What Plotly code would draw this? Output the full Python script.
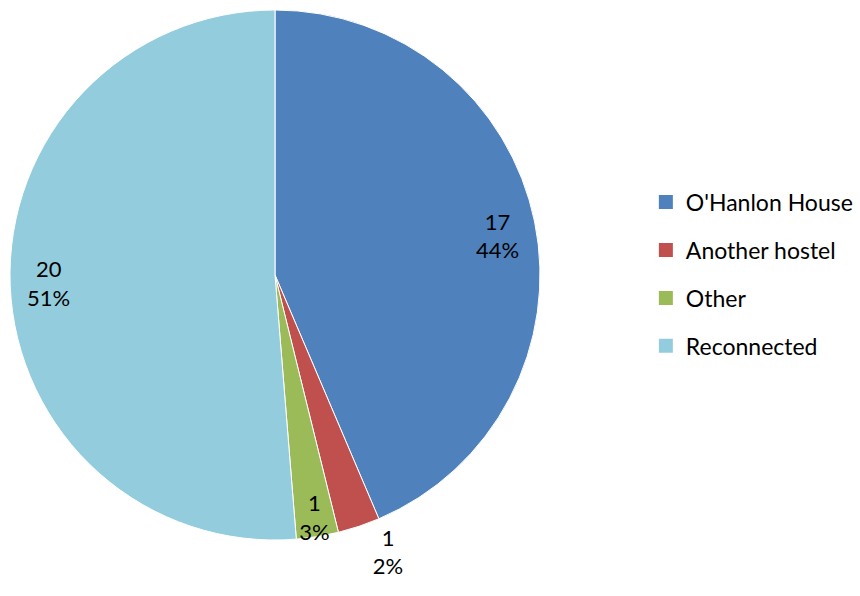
import plotly.graph_objects as go

labels = ["O'Hanlon House", "Another hostel", "Other", "Reconnected"]
values = [17, 1, 1, 20]
pct_labels = ["44%", "2%", "3%", "51%"]
colors = ["#4F81BD", "#C0504D", "#9BBB59", "#93CDDD"]
# where each data label is drawn: "band" = near the rim, "inside", "outside"
label_place = ["band", "outside", "inside", "band"]

W, H = 860, 596
CX, CY, R = 275, 275, 265          # pie geometry in pixels
R_LABEL = 191                      # radius of the invisible label ring
FONT = "Lato, Open Sans, sans-serif"

texts = [f"{v}<br>{p}" for v, p in zip(values, pct_labels)]


def domain(r):
    return dict(x=[(CX - r) / W, (CX + r) / W],
                y=[(H - CY - r) / H, (H - CY + r) / H])


fig = go.Figure()
# main pie
fig.add_trace(go.Pie(
    labels=labels, values=values,
    text=[t if p != "band" else "" for t, p in zip(texts, label_place)],
    texttemplate="%{text}",
    textposition=["inside" if p == "band" else p for p in label_place],
    insidetextorientation="horizontal",
    textfont=dict(family=FONT, size=22, color="black"),
    marker=dict(colors=colors, line=dict(color="white", width=1)),
    sort=False, direction="clockwise", rotation=0,
    showlegend=False, hoverinfo="label+value+percent",
    domain=domain(R),
))
# invisible ring carrying the large-slice labels near the rim
fig.add_trace(go.Pie(
    labels=labels, values=values,
    text=[t if p == "band" else "" for t, p in zip(texts, label_place)],
    texttemplate="%{text}",
    textposition="outside",
    textfont=dict(family=FONT, size=22, color="black"),
    marker=dict(colors=["rgba(0,0,0,0)"] * len(values), line=dict(width=0)),
    sort=False, direction="clockwise", rotation=0,
    showlegend=False, hoverinfo="skip",
    domain=domain(R_LABEL),
))
for lab, c in zip(labels, colors):
    fig.add_trace(go.Scatter(
        x=[None], y=[None], mode="markers", name=lab, legendgroup=lab,
        marker=dict(symbol="square", size=14, color=c),
    ))

fig.update_layout(
    width=W, height=H,
    margin=dict(l=0, r=0, t=0, b=0),
    paper_bgcolor="white", plot_bgcolor="white",
    xaxis=dict(visible=False), yaxis=dict(visible=False),
    font=dict(family=FONT, size=22, color="black"),
    uniformtext=dict(minsize=22, mode="show"),
    legend=dict(x=0.751, y=0.54, xanchor="left", yanchor="middle",
                tracegroupgap=15, itemwidth=30,
                font=dict(family=FONT, size=23, color="black")),
)
fig.write_html("out.html")
